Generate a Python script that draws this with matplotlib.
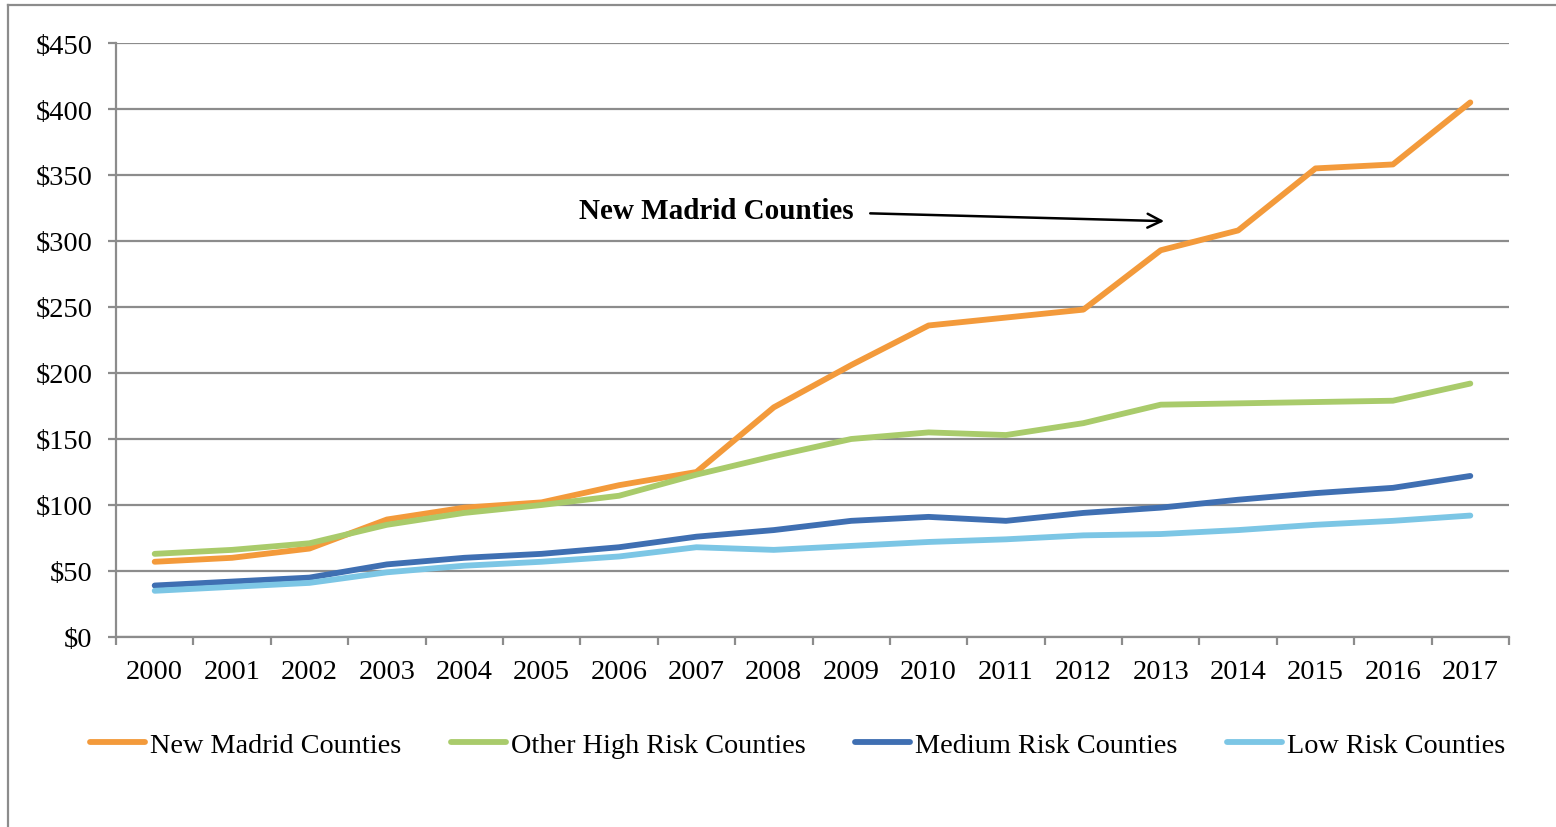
import matplotlib
matplotlib.use("Agg")
import matplotlib.pyplot as plt
from matplotlib.lines import Line2D
from matplotlib.ticker import FixedLocator, FuncFormatter

plt.rcParams['font.family'] = ['Liberation Serif', 'DejaVu Serif']

# Values (dollars)
years = [str(y) for y in range(2000, 2018)]
new_madrid = [57, 60, 67, 89, 98, 102, 115, 125, 174, 206, 236, 242, 248, 293, 308, 355, 358, 405]
other_high = [63, 66, 71, 85, 94, 100, 107, 123, 137, 150, 155, 153, 162, 176, 177, 178, 179, 192]
medium = [39, 42, 45, 55, 60, 63, 68, 76, 81, 88, 91, 88, 94, 98, 104, 109, 113, 122]
low = [35, 38, 41, 49, 54, 57, 61, 68, 66, 69, 72, 74, 77, 78, 81, 85, 88, 92]

series = [
    ("New Madrid Counties", new_madrid, "#F39A3B"),
    ("Other High Risk Counties", other_high, "#A9CB6B"),
    ("Medium Risk Counties", medium, "#3F6FB2"),
    ("Low Risk Counties", low, "#7CC6E5"),
]

fig = plt.figure(figsize=(15.56, 8.28), dpi=100)
ax = fig.add_axes([116 / 1556, 1 - 638 / 828, (1509 - 116) / 1556, (638 - 44) / 828])

x = list(range(len(years)))
for name, vals, col in series:
    ax.plot(x, vals, color=col, lw=4.2, label=name, solid_capstyle='round', solid_joinstyle='round')

ax.set_xlim(-0.5, len(years) - 0.5)
ax.set_ylim(0, 450)
ax.set_yticks(range(0, 451, 50))
ax.yaxis.set_major_formatter(FuncFormatter(lambda v, p: f"${int(v)}"))
ax.yaxis.grid(True, color="#8C8C8C", lw=1.6)
ax.set_axisbelow(True)

ax.xaxis.set_major_locator(FixedLocator([i - 0.5 for i in range(len(years) + 1)]))
ax.xaxis.set_major_formatter(FuncFormatter(lambda v, p: ""))
ax.xaxis.set_minor_locator(FixedLocator(x))
ax.set_xticklabels(years, minor=True)
ax.tick_params(axis='x', which='minor', length=0, labelsize=20.5, pad=16)
ax.tick_params(axis='x', which='major', length=6, width=1.6, color="#8C8C8C", direction='out')
ax.tick_params(axis='y', length=6, width=1.6, color="#8C8C8C", labelsize=20.5, pad=11)

for s in ['top', 'right']:
    ax.spines[s].set_visible(False)
for s in ['left', 'bottom']:
    ax.spines[s].set_color("#8C8C8C")
    ax.spines[s].set_linewidth(1.6)

ax.annotate("", xy=(13.08, 315), xytext=(9.21, 321),
            arrowprops=dict(arrowstyle="->", color="black", lw=1.8, mutation_scale=25))
ax.text(7.26, 323, "New Madrid Counties", fontsize=21, fontweight='bold', ha='center', va='center')

fig.legend(loc='center', bbox_to_anchor=(797.5 / 1556, 1 - 746 / 828), ncol=4, frameon=False,
           fontsize=20.3, handlelength=1.95, handletextpad=0.18, columnspacing=1.75)

# outer chart border
fig.add_artist(Line2D([8 / 1556, 8 / 1556], [0, 1 - 6 / 828], transform=fig.transFigure, color="#8C8C8C", lw=1.6))
fig.add_artist(Line2D([8 / 1556, 1], [1 - 6 / 828, 1 - 6 / 828], transform=fig.transFigure, color="#8C8C8C", lw=1.6))

fig.savefig("out.png", dpi=100)
